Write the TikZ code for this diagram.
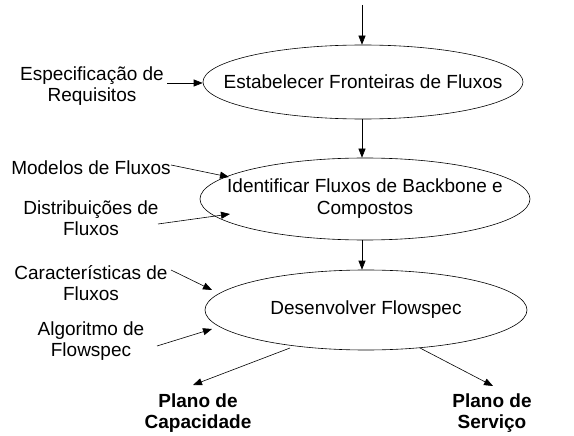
\documentclass[tikz,border=0pt]{standalone}
\usepackage{fontspec}
\setmainfont{Liberation Sans}
\usetikzlibrary{shapes.geometric,arrows.meta}
\begin{document}
\begin{tikzpicture}[x=1pt,y=-1pt,
  proc/.style={draw, ellipse, inner sep=0pt, line width=0.6pt},
  ptext/.style={align=center, inner sep=0pt, font=\fontsize{19}{22}\selectfont},
  lbl/.style={align=center, inner sep=0pt, font=\fontsize{19}{21}\selectfont},
  outlbl/.style={align=center, inner sep=0pt, font=\fontsize{19}{21}\selectfont\bfseries},
  arr/.style={-{Triangle[length=9pt,width=7pt]}, line width=0.6pt}]
\useasboundingbox[fill=white] (0,0) rectangle (574,436);
% processes
\node[proc, minimum width=320, minimum height=74] (e1) at (363,82) {};
\node[ptext] (e1t) at (e1.center) {Estabelecer Fronteiras de Fluxos};
\node[proc, minimum width=330, minimum height=82] (e2) at (365,199) {};
\node[ptext] (e2t) at (e2.center) {Identificar Fluxos de Backbone e\\Compostos};
\node[proc, minimum width=322, minimum height=80] (e3) at (366,310) {};
\node[ptext] (e3t) at (e3.center) {Desenvolver Flowspec};
% input labels
\node[lbl] (req) at (92,86) {Especificação de\\Requisitos};
\node[lbl] (mod) at (91,168) {Modelos de Fluxos};
\node[lbl] (dist) at (91,218) {Distribuições de\\Fluxos};
\node[lbl] (car) at (91,283) {Características de\\Fluxos};
\node[lbl] (alg) at (91,341) {Algoritmo de\\Flowspec};
% outputs
\node[outlbl] (cap) at (198,413) {Plano de\\Capacidade};
\node[outlbl] (srv) at (492,413) {Plano de\\Serviço};
% coordinates
\coordinate (top) at (362,5);
\coordinate (reqS) at (167,83);
\coordinate (modS) at (171,165);
\coordinate (modT) at (229,177);
\coordinate (distS) at (158,224);
\coordinate (distT) at (230,214);
\coordinate (carS) at (171,270);
\coordinate (carT) at (212,290);
\coordinate (algS) at (157,346);
\coordinate (algT) at (212,329);
\coordinate (o1S) at (290,348);
\coordinate (o1T) at (193,385);
\coordinate (o2S) at (420,348);
\coordinate (o2T) at (493,386);
% connectors
\draw[arr] (top) -- (top |- e1.north);
\draw[arr] (e1.south -| top) -- (e2.north -| top);
\draw[arr] (e2.south -| top) -- (e3.north -| top);
\draw[arr] (reqS) -- (e1.west |- reqS);
\draw[arr] (modS) -- (modT);
\draw[arr] (distS) -- (distT);
\draw[arr] (carS) -- (carT);
\draw[arr] (algS) -- (algT);
\draw[arr] (o1S) -- (o1T);
\draw[arr] (o2S) -- (o2T);
\end{tikzpicture}
\end{document}
